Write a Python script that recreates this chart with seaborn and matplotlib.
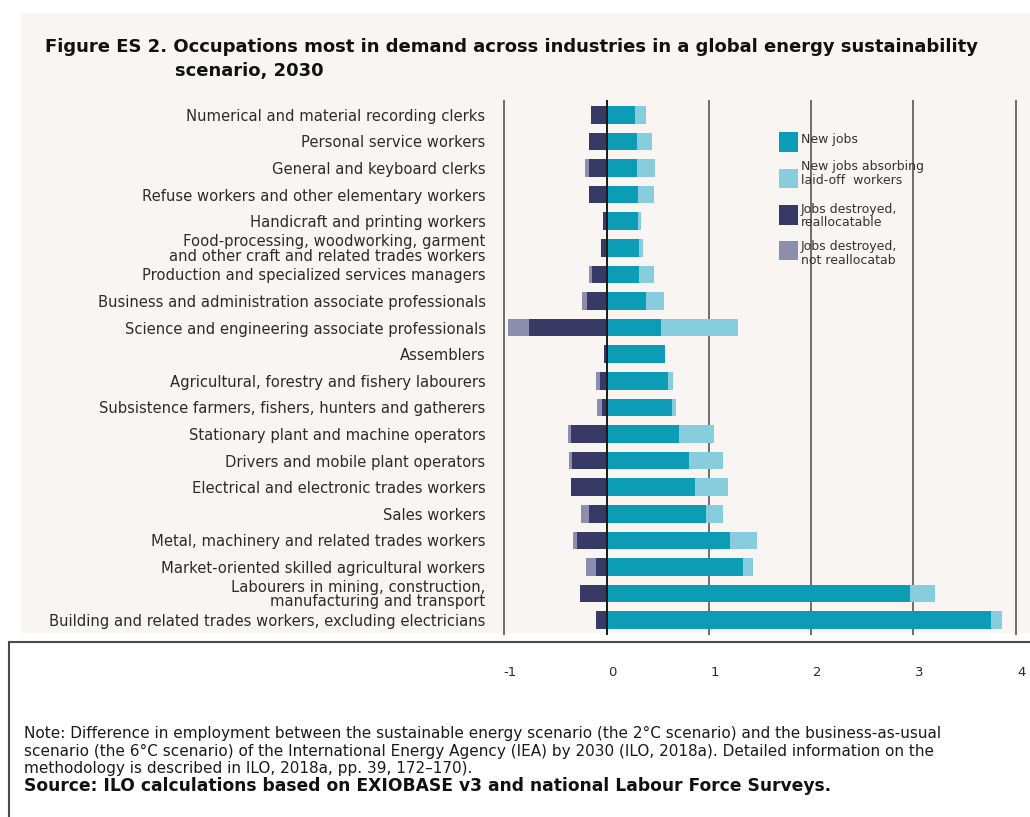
import matplotlib
matplotlib.use("Agg")
import matplotlib.pyplot as plt
import matplotlib.transforms as mtransforms
from matplotlib.patches import Rectangle
import pandas as pd
import seaborn as sns

# -----------------------------
# DATA (millions of jobs)
# -----------------------------
occupations = [
    "Numerical and material recording clerks",
    "Personal service workers",
    "General and keyboard clerks",
    "Refuse workers and other elementary workers",
    "Handicraft and printing workers",
    "Food-processing, woodworking, garment\nand other craft and related trades workers",
    "Production and specialized services managers",
    "Business and administration associate professionals",
    "Science and engineering associate professionals",
    "Assemblers",
    "Agricultural, forestry and fishery labourers",
    "Subsistence farmers, fishers, hunters and gatherers",
    "Stationary plant and machine operators",
    "Drivers and mobile plant operators",
    "Electrical and electronic trades workers",
    "Sales workers",
    "Metal, machinery and related trades workers",
    "Market-oriented skilled agricultural workers",
    "Labourers in mining, construction,\nmanufacturing and transport",
    "Building and related trades workers, excluding electricians",
]
new_jobs = [0.28, 0.295, 0.295, 0.305, 0.305, 0.315, 0.315, 0.385, 0.53, 0.57,
            0.605, 0.64, 0.71, 0.81, 0.864, 0.976, 1.204, 1.337, 2.969, 3.762]
absorbing = [0.11, 0.15, 0.175, 0.155, 0.035, 0.045, 0.145, 0.18, 0.755, 0.0,
             0.045, 0.04, 0.345, 0.327, 0.323, 0.163, 0.269, 0.092, 0.238, 0.105]
destroyed_realloc = [0.15, 0.17, 0.17, 0.17, 0.035, 0.055, 0.14, 0.19, 0.76, 0.02,
                     0.065, 0.045, 0.345, 0.334, 0.347, 0.17, 0.286, 0.105, 0.255, 0.105]
destroyed_not = [0.0, 0.0, 0.04, 0.0, 0.0, 0.0, 0.035, 0.045, 0.205, 0.0,
                 0.04, 0.045, 0.03, 0.036, 0.0, 0.082, 0.037, 0.092, 0.0, 0.0]

legend_labels = [
    "New jobs",
    "New jobs absorbing\nlaid-off  workers",
    "Jobs destroyed,\nreallocatable",
    "Jobs destroyed,\nnot reallocatab",
]
tick_values = [-1, 0, 1, 2, 3, 4]
tick_labels = ["-1", "0", "1", "2", "3", "4"]

note_lines = [
    "Note: Difference in employment between the sustainable energy scenario (the 2\u00b0C scenario) and the business-as-usual",
    "scenario (the 6\u00b0C scenario) of the International Energy Agency (IEA) by 2030 (ILO, 2018a). Detailed information on the",
    "methodology is described in ILO, 2018a, pp. 39, 172\u2013170).",
]
source_line = "Source: ILO calculations based on EXIOBASE v3 and national Labour Force Surveys."

# -----------------------------
# STYLE
# -----------------------------
TEAL = "#0c9cb5"
LIGHT = "#88cddd"
NAVY = "#363a64"
GREY = "#8c8eb0"
BEIGE = "#f8f5f2"
TEXT = "#2b2b2b"

sns.set_theme(style="white")
plt.rcParams["font.family"] = ["DejaVu Sans"]

df = pd.DataFrame({
    "occupation": occupations,
    "new": new_jobs,
    "absorbing": absorbing,
    "realloc": destroyed_realloc,
    "not_realloc": destroyed_not,
})
df["pos_total"] = df["new"] + df["absorbing"]
df["neg_dark"] = -df["realloc"]
df["neg_total"] = -(df["realloc"] + df["not_realloc"])

W, H = 1030, 817
fig = plt.figure(figsize=(W / 100, H / 100), dpi=100)
fig.patch.set_facecolor("white")


def fx(px):
    return px / W


def fy(py):
    return 1 - py / H


# background panels (kept below the axes)
fig.patches.append(Rectangle((fx(21), fy(633)), fx(1030) - fx(21), fy(13) - fy(633),
                             transform=fig.transFigure, facecolor=BEIGE,
                             edgecolor="none", zorder=-3))
fig.patches.append(Rectangle((fx(8.5), -0.05), 1.1, fy(642) + 0.05,
                             transform=fig.transFigure, facecolor="white",
                             edgecolor="#4a4a4a", lw=1.5, zorder=-3))

ax = fig.add_axes([fx(502.2), fy(635), (1017.7 - 502.2) / W, (635 - 100) / H])
ax.set_facecolor("none")
ax.set_zorder(2)

for v in [-1, 1, 2, 3, 4]:
    ax.axvline(v, color="#6e6e6e", lw=1.4, zorder=0.5)

bar_kw = dict(data=df, y="occupation", orient="h", width=0.66, saturation=1,
              errorbar=None, ax=ax, order=occupations, linewidth=0, edgecolor="none")
sns.barplot(x="pos_total", color=LIGHT, **bar_kw)
sns.barplot(x="new", color=TEAL, **bar_kw)
sns.barplot(x="neg_total", color=GREY, **bar_kw)
sns.barplot(x="neg_dark", color=NAVY, **bar_kw)

ax.axvline(0, color="#1a1a1a", lw=1.4, zorder=5)

ax.set_xlim(-1.02, 4.02)
ax.set_ylim(19.56, -0.56)
ax.set_xlabel("")
ax.set_ylabel("")
for s in ax.spines.values():
    s.set_visible(False)

ax.set_xticks(tick_values)
ax.set_xticklabels(tick_labels)
ax.tick_params(axis="x", length=0, pad=22, labelsize=9.5, labelcolor=TEXT)
ax.tick_params(axis="y", length=0, pad=12, labelsize=10.6, labelcolor=TEXT)
shift = mtransforms.ScaledTranslation(0.06, 0, fig.dpi_scale_trans)
for lbl in ax.get_xticklabels():
    lbl.set_transform(lbl.get_transform() + shift)
for lbl in ax.get_yticklabels():
    lbl.set_linespacing(0.95)

# legend (drawn by hand to copy the loose layout of the original)
legend_colors = [TEAL, LIGHT, NAVY, GREY]
box_centers = [142, 178.5, 215, 250.5]
text_centers = [140, 173.5, 216, 253.5]
for lab, col, bc, tc in zip(legend_labels, legend_colors, box_centers, text_centers):
    fig.patches.append(Rectangle((fx(779), fy(bc + 9.5)), 19 / W, 19 / H,
                                 transform=fig.transFigure, facecolor=col,
                                 edgecolor="none", zorder=3))
    fig.text(fx(801), fy(tc), lab, ha="left", va="center", fontsize=9,
             color="#333333", linespacing=1.05)

# title
fig.text(fx(45), fy(47), "Figure ES 2. Occupations most in demand across industries in a global energy sustainability",
         ha="left", va="center", fontsize=13, fontweight="bold", color="#111111")
fig.text(fx(175), fy(71), "scenario, 2030", ha="left", va="center",
         fontsize=13, fontweight="bold", color="#111111")

# notes
for line, yc in zip(note_lines, [733, 751, 768]):
    fig.text(fx(24), fy(yc), line, ha="left", va="center", fontsize=11, color="#1a1a1a")
fig.text(fx(24), fy(786), source_line, ha="left", va="center", fontsize=12.3,
         fontweight="bold", color="#111111")

fig.savefig("out.png", dpi=100)
